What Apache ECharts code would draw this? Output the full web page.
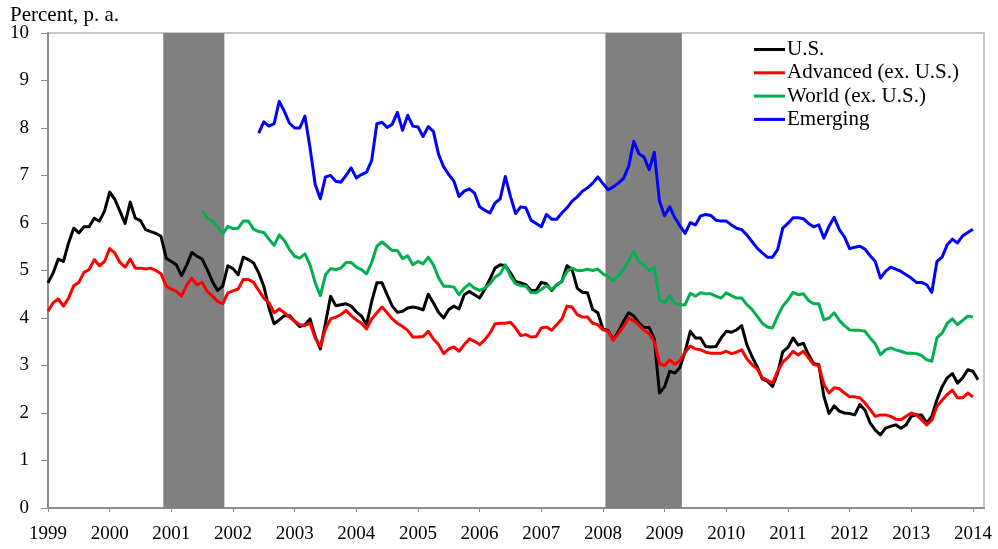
<!DOCTYPE html>
<html>
<head>
<meta charset="utf-8">
<script src="https://cdn.jsdelivr.net/npm/echarts@6/dist/echarts.min.js"></script>
<style>
  html, body { margin: 0; padding: 0; background: #ffffff; }
  #chart { width: 998px; height: 549px; }
</style>
</head>
<body>
<div id="chart"></div>
<script>
// Monthly series, month index 0 = January 1999
const FIRST_YEAR = 1999;
const yearTicks = [1999, 2000, 2001, 2002, 2003, 2004, 2005, 2006, 2007, 2008, 2009, 2010, 2011, 2012, 2013, 2014];
const yTicks = [0, 1, 2, 3, 4, 5, 6, 7, 8, 9, 10];

// Recession periods, in decimal years
const recessions = [[2000.87, 2001.86], [2008.04, 2009.28]];

const usStart = 0;
const usYield = [
  4.74, 4.95, 5.24, 5.19, 5.58, 5.89, 5.79, 5.92, 5.92, 6.10, 6.04, 6.25,
  6.65, 6.50, 6.25, 5.99, 6.44, 6.10, 6.05, 5.86, 5.82, 5.78, 5.72, 5.26,
  5.19, 5.12, 4.89, 5.12, 5.38, 5.30, 5.24, 5.02, 4.77, 4.58, 4.67, 5.10,
  5.04, 4.91, 5.28, 5.23, 5.16, 4.95, 4.67, 4.21, 3.88, 3.96, 4.05, 4.05,
  3.93, 3.82, 3.86, 3.98, 3.61, 3.35, 3.89, 4.46, 4.26, 4.28, 4.30, 4.25,
  4.13, 4.04, 3.86, 4.35, 4.74, 4.74, 4.49, 4.25, 4.12, 4.14, 4.21, 4.23,
  4.21, 4.17, 4.50, 4.32, 4.12, 4.00, 4.18, 4.25, 4.19, 4.49, 4.56, 4.49,
  4.42, 4.60, 4.82, 5.05, 5.12, 5.10, 4.95, 4.77, 4.74, 4.70, 4.58, 4.58,
  4.75, 4.72, 4.58, 4.70, 4.77, 5.10, 5.02, 4.63, 4.54, 4.53, 4.18, 4.11,
  3.77, 3.74, 3.54, 3.71, 3.93, 4.11, 4.04, 3.90, 3.80, 3.80, 3.56, 2.42,
  2.55, 2.88, 2.84, 2.96, 3.30, 3.72, 3.58, 3.58, 3.40, 3.39, 3.40, 3.58,
  3.72, 3.70, 3.75, 3.84, 3.44, 3.19, 2.98, 2.72, 2.67, 2.56, 2.84, 3.29,
  3.38, 3.58, 3.43, 3.47, 3.23, 3.04, 3.02, 2.35, 1.99, 2.15, 2.04, 2.00,
  1.99, 1.96, 2.18, 2.06, 1.79, 1.64, 1.54, 1.68, 1.72, 1.75, 1.68, 1.75,
  1.93, 1.96, 1.96, 1.79, 1.93, 2.28, 2.55, 2.74, 2.83, 2.63, 2.74, 2.91,
  2.88, 2.70
];

const advancedStart = 0;
const advancedYield = [
  4.14, 4.32, 4.40, 4.25, 4.42, 4.68, 4.75, 4.96, 5.02, 5.23, 5.10, 5.19,
  5.46, 5.37, 5.17, 5.07, 5.24, 5.05, 5.05, 5.03, 5.05, 5.00, 4.93, 4.67,
  4.61, 4.56, 4.46, 4.70, 4.84, 4.70, 4.75, 4.56, 4.46, 4.35, 4.30, 4.53,
  4.57, 4.61, 4.81, 4.81, 4.75, 4.58, 4.42, 4.32, 4.11, 4.19, 4.11, 4.02,
  3.93, 3.86, 3.84, 3.89, 3.58, 3.40, 3.77, 3.98, 4.02, 4.07, 4.16, 4.05,
  3.96, 3.89, 3.77, 3.98, 4.11, 4.23, 4.11, 3.98, 3.89, 3.82, 3.74, 3.60,
  3.60, 3.61, 3.72, 3.56, 3.44, 3.25, 3.35, 3.39, 3.30, 3.44, 3.56, 3.51,
  3.44, 3.54, 3.68, 3.88, 3.89, 3.89, 3.91, 3.79, 3.63, 3.65, 3.60, 3.61,
  3.79, 3.81, 3.74, 3.86, 3.98, 4.25, 4.23, 4.07, 4.02, 4.02, 3.89, 3.86,
  3.75, 3.72, 3.53, 3.67, 3.82, 4.00, 3.94, 3.85, 3.74, 3.67, 3.50, 3.04,
  3.00, 3.12, 3.03, 3.10, 3.28, 3.41, 3.35, 3.33, 3.28, 3.26, 3.26, 3.26,
  3.30, 3.25, 3.28, 3.33, 3.14, 3.02, 2.93, 2.74, 2.69, 2.63, 2.88, 3.07,
  3.17, 3.30, 3.22, 3.30, 3.16, 3.02, 3.00, 2.60, 2.42, 2.53, 2.51, 2.42,
  2.34, 2.34, 2.32, 2.21, 2.07, 1.93, 1.96, 1.96, 1.93, 1.87, 1.86, 1.93,
  2.00, 1.96, 1.86, 1.75, 1.85, 2.14, 2.27, 2.39, 2.48, 2.32, 2.32, 2.42,
  2.34
];

const worldStart = 30; // July 2001
const worldYield = [
  6.25, 6.10, 6.04, 5.93, 5.77, 5.93,
  5.88, 5.89, 6.04, 6.04, 5.87, 5.82, 5.80, 5.66, 5.53, 5.75, 5.63, 5.44,
  5.30, 5.26, 5.35, 5.12, 4.74, 4.47, 4.91, 5.04, 5.02, 5.05, 5.17, 5.17,
  5.07, 5.02, 4.93, 5.17, 5.51, 5.60, 5.51, 5.42, 5.42, 5.25, 5.31, 5.12,
  5.19, 5.14, 5.28, 5.12, 4.85, 4.67, 4.67, 4.65, 4.49, 4.63, 4.72, 4.63,
  4.58, 4.63, 4.72, 4.86, 4.93, 5.12, 4.88, 4.72, 4.68, 4.67, 4.53, 4.53,
  4.60, 4.68, 4.60, 4.70, 4.77, 4.98, 5.05, 5.00, 5.00, 5.03, 5.00, 5.03,
  4.93, 4.87, 4.79, 4.89, 5.02, 5.20, 5.40, 5.18, 5.11, 5.00, 5.07, 4.39,
  4.32, 4.47, 4.31, 4.28, 4.28, 4.52, 4.46, 4.53, 4.51, 4.51, 4.46, 4.42,
  4.53, 4.47, 4.42, 4.42, 4.28, 4.18, 4.04, 3.89, 3.81, 3.79, 4.04, 4.25,
  4.38, 4.54, 4.49, 4.51, 4.37, 4.30, 4.30, 3.96, 4.00, 4.11, 3.95, 3.84,
  3.75, 3.74, 3.74, 3.72, 3.58, 3.46, 3.23, 3.33, 3.37, 3.33, 3.30, 3.26,
  3.26, 3.25, 3.21, 3.12, 3.09, 3.58, 3.68, 3.89, 3.98, 3.86, 3.95, 4.04,
  4.02
];

const emergingStart = 41; // June 2002
const emergingYield = [
  7.89, 8.13, 8.04, 8.09, 8.56, 8.35, 8.10,
  8.00, 8.00, 8.25, 7.58, 6.81, 6.51, 6.97, 7.00, 6.88, 6.86, 7.00, 7.16,
  6.95, 7.02, 7.07, 7.32, 8.09, 8.12, 8.01, 8.08, 8.33, 7.95, 8.27, 8.04,
  8.02, 7.82, 8.03, 7.93, 7.45, 7.18, 7.02, 6.88, 6.56, 6.67, 6.72, 6.63,
  6.34, 6.27, 6.21, 6.42, 6.51, 6.98, 6.56, 6.20, 6.34, 6.32, 6.06, 5.99,
  5.92, 6.18, 6.08, 6.08, 6.21, 6.32, 6.46, 6.55, 6.67, 6.74, 6.84, 6.97,
  6.83, 6.70, 6.76, 6.84, 6.94, 7.19, 7.72, 7.46, 7.39, 7.12, 7.49, 6.46,
  6.15, 6.34, 6.11, 5.94, 5.78, 6.01, 5.96, 6.15, 6.18, 6.16, 6.06, 6.04,
  6.04, 5.96, 5.89, 5.86, 5.75, 5.61, 5.47, 5.37, 5.28, 5.28, 5.44, 5.89,
  5.99, 6.11, 6.11, 6.09, 5.99, 5.92, 5.96, 5.68, 5.93, 6.12, 5.86, 5.71,
  5.46, 5.49, 5.51, 5.45, 5.31, 5.19, 4.84, 4.98, 5.07, 5.03, 4.98, 4.91,
  4.84, 4.75, 4.75, 4.70, 4.54, 5.19, 5.28, 5.54, 5.66, 5.58, 5.73, 5.80,
  5.87
];

const seriesNames = ['U.S.', 'Advanced (ex. U.S.)', 'World (ex. U.S.)', 'Emerging'];
const seriesColors = ['#000000', '#ff0000', '#00b050', '#0000ff'];

// Pair each monthly value with its time in decimal years
function toPoints(values, startMonth) {
  return values.map((v, i) => [FIRST_YEAR + (startMonth + i) / 12, v]);
}

const lineData = [
  toPoints(usYield, usStart),
  toPoints(advancedYield, advancedStart),
  toPoints(worldYield, worldStart),
  toPoints(emergingYield, emergingStart)
];

const FONT = "'Liberation Serif', 'Times New Roman', serif";
const AXIS_GREY = '#8c8c8c';

const chart = echarts.init(document.getElementById('chart'), null, { renderer: 'canvas' });

const series = [
  {
    name: 'recession',
    type: 'line',
    data: [],
    silent: true,
    z: 1,
    markArea: {
      silent: true,
      itemStyle: { color: '#808080', opacity: 1 },
      data: recessions.map(r => [{ xAxis: r[0], yAxis: 0 }, { xAxis: r[1], yAxis: 10 }])
    }
  }
];
seriesNames.forEach((name, k) => {
  series.push({
    name: name,
    type: 'line',
    data: lineData[k],
    symbol: 'none',
    showSymbol: false,
    z: 3 + k,
    lineStyle: { color: seriesColors[k], width: 3, join: 'round' },
    itemStyle: { color: seriesColors[k] },
    animation: false
  });
});

chart.setOption({
  animation: false,
  backgroundColor: '#ffffff',
  title: {
    text: 'Percent, p. a.',
    left: 10,
    top: 5,
    padding: 0,
    textStyle: { fontFamily: FONT, fontSize: 21, fontWeight: 'normal', color: '#000' }
  },
  legend: {
    data: seriesNames,
    orient: 'vertical',
    left: 754,
    top: 39,
    padding: 0,
    itemGap: 2.3,
    itemWidth: 31,
    itemHeight: 3,
    icon: 'rect',
    textStyle: { fontFamily: FONT, fontSize: 21, lineHeight: 21, color: '#000', padding: [0, 0, 0, -3] }
  },
  grid: {
    left: 48,
    right: 14,
    top: 33,
    bottom: 41,
    show: true,
    borderColor: '#b4b4b4',
    borderWidth: 1.5,
    containLabel: false
  },
  xAxis: {
    type: 'value',
    min: FIRST_YEAR,
    max: 2014.18,
    splitLine: { show: false },
    axisLine: { lineStyle: { color: AXIS_GREY, width: 2 } },
    axisTick: {
      show: true,
      length: 4,
      customValues: yearTicks,
      lineStyle: { color: AXIS_GREY, width: 1 }
    },
    axisLabel: {
      customValues: yearTicks,
      margin: 17,
      fontFamily: FONT,
      fontSize: 19,
      color: '#000',
      formatter: v => String(Math.round(v))
    }
  },
  yAxis: {
    type: 'value',
    min: 0,
    max: 10,
    interval: 1,
    splitLine: { show: false },
    axisLine: { show: true, lineStyle: { color: AXIS_GREY, width: 2 } },
    axisTick: { show: true, length: 7, lineStyle: { color: AXIS_GREY, width: 1 } },
    axisLabel: {
      margin: 19,
      fontFamily: FONT,
      fontSize: 19,
      color: '#000'
    }
  },
  series: series
});
</script>
</body>
</html>
